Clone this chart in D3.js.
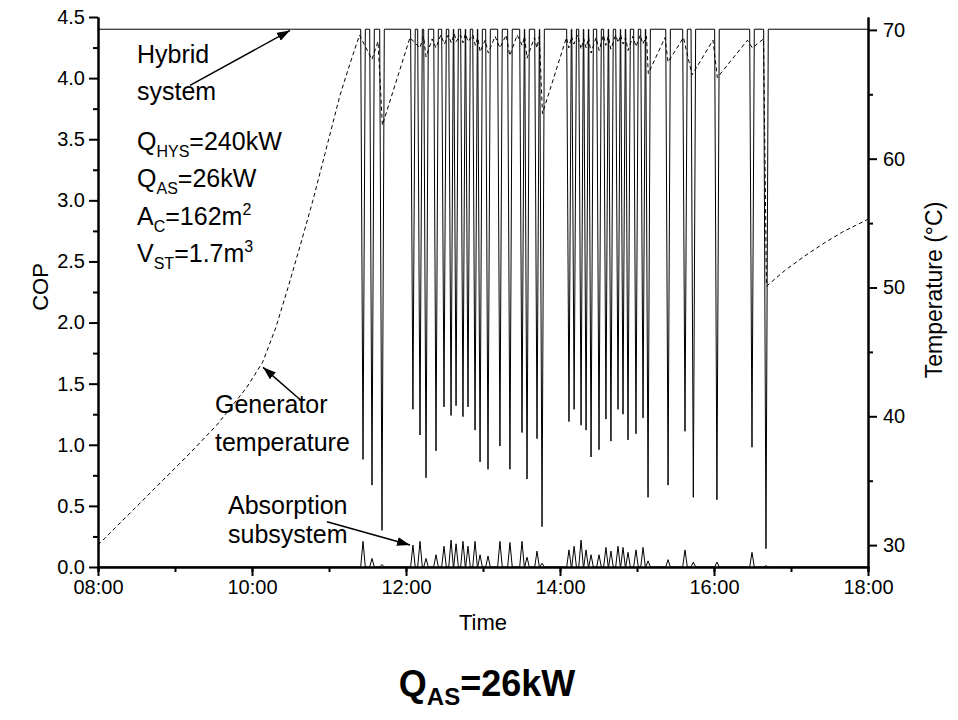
<!DOCTYPE html>
<html>
<head>
<meta charset="utf-8">
<script src="https://cdn.jsdelivr.net/npm/d3@7"></script>
<style>
  body { margin: 0; background: #fff; }
  text { font-family: "Liberation Sans", Arial, sans-serif; fill: #000; }
</style>
</head>
<body>
<svg id="chart" width="958" height="720"></svg>
<script>
// --- DATA (minutes after 08:00) ---
const copTicks = [0, 0.5, 1, 1.5, 2, 2.5, 3, 3.5, 4, 4.5];
const tempTicks = [30, 40, 50, 60, 70];
const hybridTop = 4.4;
const dipHalfWidth = 1.8;

// hybrid COP drops and the matching absorption subsystem peaks
const dipMinute = [206.5, 213.5, 221.3, 245.4, 250.9, 255.6, 263.4, 269.6, 275.1, 279.0,
  284.4, 288.3, 293.8, 297.7, 303.9, 313.2, 321.0, 330.4, 334.3, 342.1,
  346.0, 367.0, 371.0, 376.4, 380.3, 384.2, 390.4, 395.8, 399.7, 405.2,
  409.1, 413.0, 419.2, 424.7, 428.6, 444.2, 457.4, 463.9, 482.3, 509.6, 520.5];
const dipHybridCop = [0.88, 0.67, 0.30, 1.29, 1.08, 0.73, 0.95, 1.31, 1.24, 1.32,
  1.23, 1.31, 1.12, 0.86, 0.80, 0.99, 0.80, 1.10, 0.72, 1.05,
  0.33, 1.19, 1.29, 1.16, 1.12, 0.90, 0.96, 1.21, 1.03, 1.29,
  1.25, 1.04, 1.09, 1.22, 0.57, 0.67, 1.11, 0.57, 0.55, 0.98, 0.15];
const dipAbsorptionCop = [0.21, 0.07, 0.02, 0.18, 0.21, 0.07, 0.10, 0.17, 0.22, 0.19,
  0.21, 0.17, 0.21, 0.10, 0.09, 0.21, 0.20, 0.21, 0.08, 0.13,
  0.03, 0.14, 0.17, 0.22, 0.14, 0.10, 0.10, 0.16, 0.13, 0.17,
  0.16, 0.12, 0.14, 0.16, 0.05, 0.06, 0.14, 0.04, 0.04, 0.12, 0.01];

// generator temperature (°C)
const genMinute = [0, 23.1, 46.2, 69.3, 92.4, 115.6, 128.3, 138.6, 148.1, 157.7, 167.3, 176.9, 188.5, 196.1, 203.8,
  213.4, 218.2, 221.6, 243.1, 250.8, 253.7, 255.6, 260.4, 263.3, 267.1, 270.0, 272.9, 275.3, 277.7, 279.1,
  282.5, 284.4, 286.3, 288.3, 292.1, 294.0, 295.9, 297.8, 301.7, 304.1, 309.4, 313.2, 318.0, 320.9, 326.6,
  330.5, 332.4, 334.3, 340.1, 342.0, 343.9, 346.3, 365.0, 366.9, 368.9, 370.8, 373.7, 376.5, 378.5, 380.4,
  382.3, 384.2, 388.1, 390.5, 393.8, 395.7, 397.6, 399.6, 403.4, 405.3, 407.2, 409.2, 411.1, 413.0, 416.8,
  419.2, 422.6, 424.5, 427.4, 428.8, 441.8, 444.2, 456.2, 462.9, 479.2, 482.6, 506.1, 509.9, 518.6,
  520.9, 535, 550, 565, 580, 590, 600];
const genTemp = [30.0, 32.3, 34.6, 36.9, 39.3, 42.2, 44.2, 46.9, 50.0, 53.3, 56.7, 60.4, 64.9, 67.3, 69.6,
  67.7, 69.1, 62.6, 69.4, 68.6, 69.5, 67.9, 69.3, 68.6, 69.6, 68.9, 69.6, 69.0, 69.7, 69.1,
  69.6, 69.0, 69.7, 69.1, 69.6, 68.8, 69.4, 68.3, 69.2, 68.2, 69.5, 68.6, 69.6, 68.0, 69.6,
  68.8, 69.5, 67.8, 69.4, 68.6, 69.5, 63.5, 69.4, 68.6, 69.5, 68.9, 69.6, 68.5, 69.3, 68.6,
  69.4, 68.2, 69.4, 68.4, 69.6, 68.8, 69.5, 68.5, 69.6, 69.0, 69.6, 68.9, 69.4, 68.4, 69.5,
  68.7, 69.6, 68.9, 69.5, 66.6, 69.4, 67.5, 69.4, 66.5, 69.2, 66.3, 69.2, 68.6, 69.3,
  50.1, 51.3, 52.4, 53.4, 54.3, 54.8, 55.3];

// --- SETUP ---
const svg = d3.select("#chart");
const margin = { top: 17, right: 90, bottom: 153, left: 98 };
const width = +svg.attr("width") - margin.left - margin.right;
const height = +svg.attr("height") - margin.top - margin.bottom;
const chart = svg.append("g").attr("transform", `translate(${margin.left}, ${margin.top})`);

const day = new Date(2000, 0, 1, 8, 0);
const toDate = m => new Date(day.getTime() + m * 60000);

const x = d3.scaleTime().domain([toDate(0), toDate(600)]).range([0, width]);
const yCop = d3.scaleLinear().domain([0, 4.5]).range([height, 0]);
const yTemp = d3.scaleLinear().domain([28.3, 71]).range([height, 0]);

// build series from the dip table
const hybrid = [[0, hybridTop]];
const absorption = [[0, 0]];
dipMinute.forEach((m, i) => {
  hybrid.push([m - dipHalfWidth, hybridTop], [m, dipHybridCop[i]], [m + dipHalfWidth, hybridTop]);
  absorption.push([m - dipHalfWidth, 0], [m, dipAbsorptionCop[i]], [m + dipHalfWidth, 0]);
});
hybrid.push([600, hybridTop]);
absorption.push([600, 0]);
const generator = genMinute.map((m, i) => [m, genTemp[i]]);

// --- LINES ---
const copLine = d3.line().x(d => x(toDate(d[0]))).y(d => yCop(d[1]));
const tempLine = d3.line().x(d => x(toDate(d[0]))).y(d => yTemp(d[1]));

chart.append("path").datum(generator)
  .attr("d", tempLine).attr("fill", "none").attr("stroke", "#000")
  .attr("stroke-width", 1).attr("stroke-dasharray", "4,3");
chart.append("path").datum(hybrid)
  .attr("d", copLine).attr("fill", "none").attr("stroke", "#000").attr("stroke-width", 1);
chart.append("path").datum(absorption)
  .attr("d", copLine).attr("fill", "none").attr("stroke", "#000").attr("stroke-width", 1);

// --- AXES ---
function styleAxis(g) {
  g.select(".domain").attr("stroke-width", 2);
  g.selectAll(".tick line").attr("stroke-width", 2);
  g.selectAll("text").style("font-size", "20px").attr("font-family", null);
}

chart.append("g").attr("transform", `translate(0, ${height})`)
  .call(d3.axisBottom(x).ticks(d3.timeHour.every(1)).tickSize(5).tickFormat(""))
  .call(styleAxis);
chart.append("g").attr("transform", `translate(0, ${height})`)
  .call(d3.axisBottom(x).ticks(d3.timeHour.every(2)).tickSize(9).tickPadding(4)
    .tickFormat(d3.timeFormat("%H:%M")).tickSizeOuter(0))
  .call(styleAxis);

chart.append("g")
  .call(d3.axisLeft(yCop).tickValues(d3.range(0.25, 4.5, 0.5)).tickSize(5).tickFormat("").tickSizeOuter(0))
  .call(styleAxis);
chart.append("g")
  .call(d3.axisLeft(yCop).tickValues(copTicks).tickSize(9).tickPadding(4)
    .tickFormat(d3.format(".1f")).tickSizeOuter(0))
  .call(styleAxis);

chart.append("g").attr("transform", `translate(${width}, 0)`)
  .call(d3.axisRight(yTemp).tickValues([35, 45, 55, 65]).tickSize(5).tickFormat("").tickSizeOuter(0))
  .call(styleAxis);
chart.append("g").attr("transform", `translate(${width}, 0)`)
  .call(d3.axisRight(yTemp).tickValues(tempTicks).tickSize(9).tickPadding(6).tickSizeOuter(0))
  .call(styleAxis);

// axis titles
svg.append("text").attr("transform", "translate(40, 287) rotate(-90)")
  .attr("text-anchor", "middle").attr("dy", "0.35em").style("font-size", "22px").text("COP");
svg.append("text").attr("transform", "translate(934, 290) rotate(-90)")
  .attr("text-anchor", "middle").attr("dy", "0.35em").style("font-size", "23px").text("Temperature (°C)");
svg.append("text").attr("x", margin.left + width / 2).attr("y", 622)
  .attr("text-anchor", "middle").attr("dy", "0.35em").style("font-size", "22px").text("Time");

// title
const title = svg.append("text").attr("x", margin.left + width / 2 + 4).attr("y", 696)
  .attr("text-anchor", "middle").style("font-size", "36px").style("font-weight", "bold");
title.append("tspan").text("Q");
title.append("tspan").attr("dy", 9).style("font-size", "24px").text("AS");
title.append("tspan").attr("dy", -9).text("=26kW");

// --- ANNOTATIONS ---
svg.append("defs").append("marker")
  .attr("id", "arrow").attr("viewBox", "0 0 13 9").attr("refX", 13).attr("refY", 4.5)
  .attr("markerWidth", 13).attr("markerHeight", 9).attr("markerUnits", "userSpaceOnUse")
  .attr("orient", "auto")
  .append("path").attr("d", "M0,0 L13,4.5 L0,9 Z").attr("fill", "#000");

function label(lines, xPos, yPos, gap) {
  lines.forEach((parts, i) => {
    const t = chart.append("text").attr("x", xPos).attr("y", yPos + i * gap)
      .attr("dy", "0.35em").style("font-size", "25px");
    parts.forEach(p => {
      if (p.sub) t.append("tspan").attr("dy", 7).style("font-size", "16px").text(p.sub);
      else if (p.sup) t.append("tspan").attr("dy", -10).style("font-size", "16px").text(p.sup);
      else t.append("tspan").attr("dy", p.after || 0).text(p.t);
    });
  });
}
label([[{ t: "Hybrid" }], [{ t: "system" }]], 39, 46, 37);
label([
  [{ t: "Q" }, { sub: "HYS" }, { t: "=240kW", after: -7 }],
  [{ t: "Q" }, { sub: "AS" }, { t: "=26kW", after: -7 }],
  [{ t: "A" }, { sub: "C" }, { t: "=162m", after: -7 }, { sup: "2" }],
  [{ t: "V" }, { sub: "ST" }, { t: "=1.7m", after: -7 }, { sup: "3" }]
], 39, 133, 37.3);
label([[{ t: "Generator" }], [{ t: "temperature" }]], 117, 396, 38);
label([[{ t: "Absorption" }], [{ t: "subsystem" }]], 130, 497, 29);

function arrow(t0, v0, t1, v1, scale) {
  chart.append("line")
    .attr("x1", x(toDate(t0))).attr("y1", scale(v0))
    .attr("x2", x(toDate(t1))).attr("y2", scale(v1))
    .attr("stroke", "#000").attr("stroke-width", 1.5).attr("marker-end", "url(#arrow)");
}
arrow(71.7, 3.94, 149.6, 4.39, yCop);
arrow(157.4, 41.3, 128.6, 43.8, yTemp);
arrow(178.4, 0.37, 243.1, 0.18, yCop);
</script>
</body>
</html>
